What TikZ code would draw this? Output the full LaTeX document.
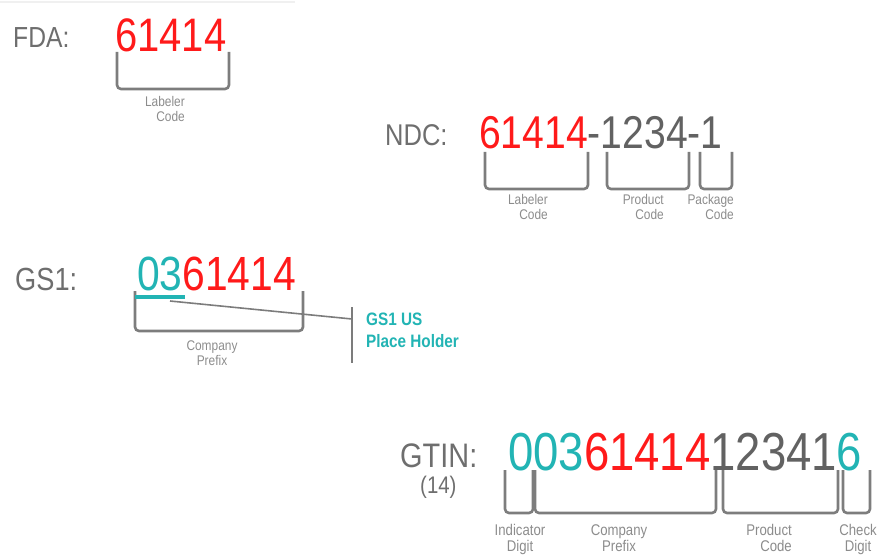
\documentclass[tikz,border=0pt]{standalone}
\usepackage{fontspec}
\setmainfont{Liberation Sans}[FakeStretch=0.85]
\definecolor{cervena}{HTML}{FF1A1A}
\definecolor{tyrkys}{HTML}{22B4B4}
\definecolor{seda}{HTML}{626262}
\definecolor{popis}{HTML}{6E6E6E}
\definecolor{drobna}{HTML}{8C8C8C}
\begin{document}
\begin{tikzpicture}[x=1pt, y=-1pt,
    nazev/.style={popis, anchor=base west, inner sep=0pt},
    cislo/.style={anchor=base west, inner sep=0pt},
    zavorka/.style={draw=popis!90, line width=2.6pt, rounded corners=4pt},
    drobny/.style={drobna, inner sep=0pt, font=\fontsize{14}{15}\selectfont}]
    \useasboundingbox (0,0) rectangle (877,556);
    \draw[gray!12, line width=1.5pt] (0,2) -- (295,2);

    % FDA
    \node[nazev, font=\fontsize{29}{29}\selectfont] (fda) at (13,48) {FDA:};
    \node[cislo, font=\fontsize{47}{47}\selectfont] (fdacislo) at (115,52) {\color{cervena}61414};
    \draw[zavorka] (117,52) -- (117,89) -- (229,89) -- (229,52);
    \node[drobny, anchor=north east, align=right] (fdalab) at (185,96) {Labeler\\Code};

    % NDC
    \node[nazev, font=\fontsize{30}{30}\selectfont] (ndc) at (385,146) {NDC:};
    \node[cislo, font=\fontsize{46}{46}\selectfont] (ndccislo) at (479,149)
        {\color{cervena}61414\color{seda}-1234-1};
    \draw[zavorka] (485,152) -- (485,189) -- (588,189) -- (588,152);
    \draw[zavorka] (607,152) -- (607,189) -- (689,189) -- (689,152);
    \draw[zavorka] (700,152) -- (700,189) -- (732,189) -- (732,152);
    \node[drobny, anchor=north east, align=right] (ndclab1) at (548,194) {Labeler\\Code};
    \node[drobny, anchor=north east, align=right] (ndclab2) at (664,194) {Product\\Code};
    \node[drobny, anchor=north east, align=right] (ndclab3) at (734,194) {Package\\Code};

    % GS1
    \node[nazev, font=\fontsize{32}{32}\selectfont] (gs) at (15,290) {GS1:};
    \node[cislo, font=\fontsize{48}{48}\selectfont] (gscislo) at (137,290)
        {\color{tyrkys}03\color{cervena}61414};
    \draw[zavorka] (135,291) -- (135,331) -- (303,331) -- (303,291);
    \draw[tyrkys, line width=3.5pt] (135,297) -- (185,297);
    \node[drobny, anchor=north, align=center] (gslab) at (212,341) {Company\\Prefix};
    % Odkaz na drzak mista
    \coordinate (podtrzeni) at (170,301);
    \coordinate (svislice) at (352,319);
    \draw[popis!90, line width=1.6pt] (podtrzeni) -- (svislice);
    \draw[popis!90, line width=1.8pt] (352,307) -- (352,363);
    \node[tyrkys, anchor=north west, align=left, inner sep=0pt,
        font=\fontsize{18}{21.5}\selectfont\bfseries] (drzak) at (366,313) {GS1 US\\Place Holder};

    % GTIN
    \node[nazev, font=\fontsize{34}{34}\selectfont] (gtin) at (400,467) {GTIN:};
    \node[nazev, font=\fontsize{24}{24}\selectfont] (delka) at (420,493) {(14)};
    \node[cislo, font=\fontsize{53.5}{53.5}\selectfont] (gtincislo) at (508,470)
        {\color{tyrkys}003\color{cervena}61414\color{seda}12341\color{tyrkys}6};
    \draw[zavorka] (505,470) -- (505,513) -- (533,513) -- (533,470);
    \draw[zavorka] (535,470) -- (535,513) -- (716,513) -- (716,470);
    \draw[zavorka] (723,470) -- (723,513) -- (838,513) -- (838,470);
    \draw[zavorka] (843,470) -- (843,513) -- (870,513) -- (870,470);
    \node[drobny, anchor=north, align=center, font=\fontsize{15.5}{16}\selectfont] (gtinlab1) at (520,524) {Indicator\\Digit};
    \node[drobny, anchor=north, align=center, font=\fontsize{15.5}{16}\selectfont] (gtinlab2) at (619,524) {Company\\Prefix};
    \node[drobny, anchor=north east, align=right, font=\fontsize{15.5}{16}\selectfont] (gtinlab3) at (792,524) {Product\\Code};
    \node[drobny, anchor=north, align=center, font=\fontsize{15.5}{16}\selectfont] (gtinlab4) at (858,524) {Check\\Digit};
\end{tikzpicture}
\end{document}
